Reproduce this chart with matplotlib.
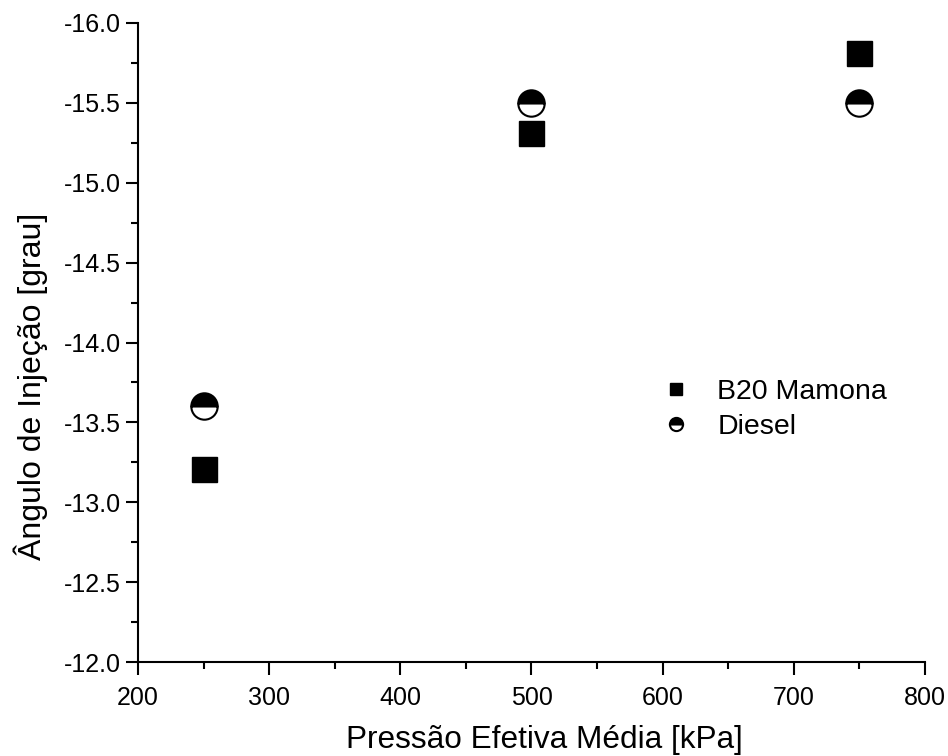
import matplotlib
matplotlib.use("Agg")
import matplotlib.pyplot as plt
from matplotlib.ticker import MultipleLocator, FormatStrFormatter

plt.rcParams['font.family'] = ['Liberation Sans', 'DejaVu Sans']

pressure = [250, 500, 750]
b20_mamona = [-13.21, -15.31, -15.81]
diesel = [-13.60, -15.50, -15.50]

fig = plt.figure(figsize=(9.48, 7.56), dpi=100)
ax = fig.add_axes([0.1456, 0.1243, 0.8301, 0.8453])

ax.plot(pressure, b20_mamona, linestyle='none', marker='s', markersize=18,
        color='black', label='B20 Mamona')
ax.plot(pressure, diesel, linestyle='none', marker='o', markersize=19,
        color='black', markerfacecolor='black', markerfacecoloralt='white',
        fillstyle='top', markeredgewidth=1.5, label='Diesel')

ax.set_xlim(200, 800)
ax.set_ylim(-12.0, -16.0)
ax.xaxis.set_major_locator(MultipleLocator(100))
ax.xaxis.set_minor_locator(MultipleLocator(50))
ax.yaxis.set_major_locator(MultipleLocator(0.5))
ax.yaxis.set_minor_locator(MultipleLocator(0.25))
ax.yaxis.set_major_formatter(FormatStrFormatter('%.1f'))

for s in ['top', 'right']:
    ax.spines[s].set_visible(False)
for s in ['left', 'bottom']:
    ax.spines[s].set_linewidth(1.5)
ax.tick_params(which='major', direction='out', length=9, width=1.5, labelsize=18)
ax.tick_params(axis='x', which='major', pad=8)
ax.tick_params(which='minor', direction='out', length=5, width=1.5)

ax.set_xlabel('Pressão Efetiva Média [kPa]', fontsize=22.7)
ax.set_ylabel('Ângulo de Injeção [grau]', fontsize=23)
ax.xaxis.set_label_coords(0.517, -0.099)
ax.yaxis.set_label_coords(-0.115, 0.432)

ax.legend(loc='upper left', bbox_to_anchor=(0.615, 0.483), frameon=False,
          markerscale=0.5, fontsize=20.5, handletextpad=0.45, labelspacing=0.3)

fig.savefig('out.png', dpi=100)
